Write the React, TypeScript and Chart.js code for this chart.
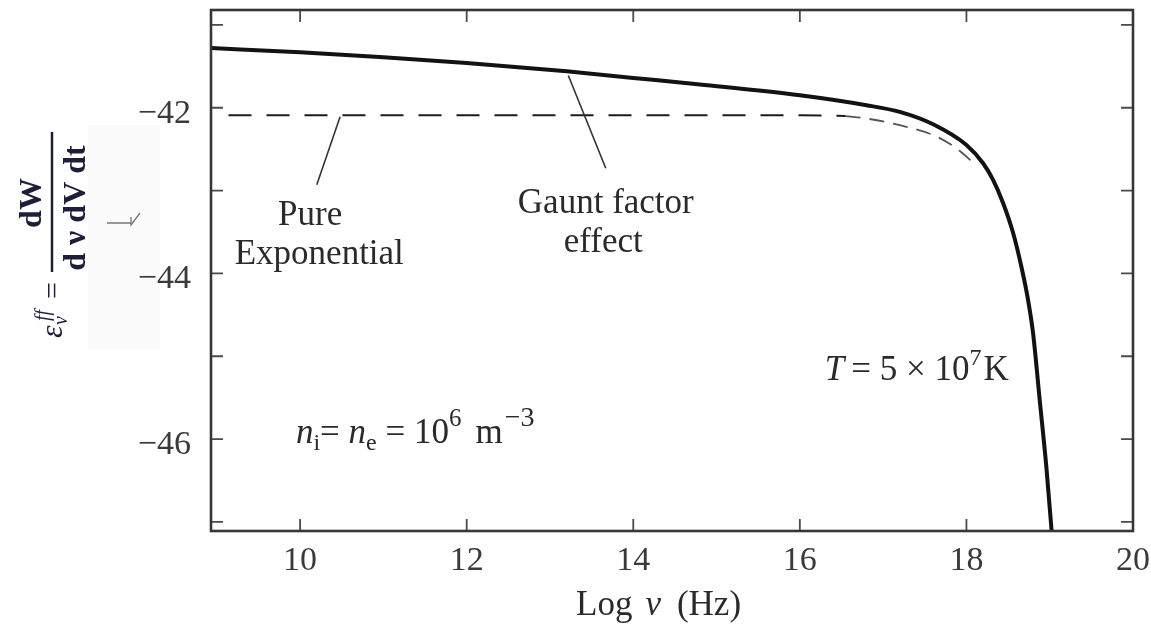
import React, { useEffect, useRef } from "react";
import { Chart, registerables } from "chart.js";

Chart.register(...registerables);

// ---- data ----
const LOG_NU_GAUNT = [8.93, 10.0, 11.0, 12.0, 13.2, 14.0, 14.8, 16.0, 16.8, 17.2, 17.6, 18.0, 18.2, 18.32, 18.44, 18.56, 18.66, 18.74, 18.8, 18.88, 18.96, 19.03];
const EMISSIVITY_GAUNT = [-41.28, -41.33, -41.39, -41.46, -41.56, -41.64, -41.72, -41.85, -41.97, -42.05, -42.2, -42.45, -42.67, -42.87, -43.15, -43.51, -43.92, -44.32, -44.72, -45.53, -46.34, -47.2];

const LOG_NU_EXP_FLAT = [9.14, 10, 12, 14, 16, 16.55];
const EMISSIVITY_EXP_FLAT = [-42.09, -42.09, -42.09, -42.09, -42.09, -42.1];
const LOG_NU_EXP_KNEE = [16.55, 16.8, 17.2, 17.6, 17.88, 18.12];
const EMISSIVITY_EXP_KNEE = [-42.1, -42.13, -42.21, -42.33, -42.49, -42.7];

const X_MIN = 8.93;
const X_MAX = 20;
const Y_MIN = -47.11;
const Y_MAX = -40.82;
const X_TICKS = [10, 12, 14, 16, 18, 20];
const Y_TICKS = [-47, -46, -45, -44, -43, -42, -41];
const Y_LABELED_TICKS = [-46, -44, -42];

const SERIF = "'Liberation Serif', 'DejaVu Serif', 'Times New Roman', serif";
const f = (size: number, style = "") => `${style} ${size}px ${SERIF}`.trim();

type Part = { text: string; font: string; dy?: number; gap?: number };
type Annotation = { x: number; y: number; align: "left" | "center"; parts: Part[] };

const ANNOTATIONS: Annotation[] = [
  { x: 10.12, y: -43.42, align: "center", parts: [{ text: "Pure", font: f(35) }] },
  { x: 10.23, y: -43.89, align: "center", parts: [{ text: "Exponential", font: f(35) }] },
  { x: 13.67, y: -43.27, align: "center", parts: [{ text: "Gaunt factor", font: f(35) }] },
  { x: 13.64, y: -43.74, align: "center", parts: [{ text: "effect", font: f(35) }] },
  {
    x: 16.3,
    y: -45.29,
    align: "left",
    parts: [
      { text: "T", font: f(35, "italic"), gap: 7 },
      { text: "= 5 × 10", font: f(35) },
      { text: "7", font: f(24), dy: -15, gap: 2 },
      { text: "K", font: f(35) },
    ],
  },
  {
    x: 9.95,
    y: -46.05,
    align: "left",
    parts: [
      { text: "n", font: f(35, "italic") },
      { text: "i", font: f(24), dy: 7 },
      { text: "= ", font: f(35) },
      { text: "n", font: f(35, "italic") },
      { text: "e", font: f(24), dy: 7 },
      { text: " = 10", font: f(35) },
      { text: "6", font: f(25), dy: -17, gap: 14 },
      { text: "m", font: f(35), gap: 2 },
      { text: "−3", font: f(28), dy: -17 },
    ],
  },
];

const POINTERS = [
  { x1: 10.48, y1: -42.11, x2: 10.2, y2: -42.93 },
  { x1: 13.22, y1: -41.61, x2: 13.67, y2: -42.73 },
];

function drawParts(ctx: CanvasRenderingContext2D, x: number, y: number, parts: Part[], align: "left" | "center") {
  let total = 0;
  for (const p of parts) {
    ctx.font = p.font;
    total += ctx.measureText(p.text).width + (p.gap || 0);
  }
  let cx = align === "center" ? x - total / 2 : x;
  for (const p of parts) {
    ctx.font = p.font;
    ctx.fillText(p.text, cx, y + (p.dy || 0));
    cx += ctx.measureText(p.text).width + (p.gap || 0);
  }
}

const framePlugin = {
  id: "frameAndNotes",
  beforeDraw(chart: any) {
    const { ctx } = chart;
    ctx.save();
    ctx.fillStyle = "rgba(0,0,0,0.014)";
    ctx.fillRect(88, 125, 72, 225);
    ctx.restore();
  },
  afterDatasetsDraw(chart: any) {
    const { ctx, chartArea: a, scales } = chart;
    const xs = scales.x;
    const ys = scales.y;
    ctx.save();

    // inward tick marks
    ctx.strokeStyle = "#4a4a4a";
    ctx.lineWidth = 1.8;
    ctx.beginPath();
    for (const v of X_TICKS) {
      const px = xs.getPixelForValue(v);
      if (px > a.right - 2) continue;
      ctx.moveTo(px, a.bottom);
      ctx.lineTo(px, a.bottom - 12);
      ctx.moveTo(px, a.top);
      ctx.lineTo(px, a.top + 12);
    }
    for (const v of Y_TICKS) {
      const py = ys.getPixelForValue(v);
      ctx.moveTo(a.left, py);
      ctx.lineTo(a.left + 12, py);
      ctx.moveTo(a.right, py);
      ctx.lineTo(a.right - 12, py);
    }
    ctx.stroke();

    // frame
    ctx.strokeStyle = "#363636";
    ctx.lineWidth = 2.6;
    ctx.strokeRect(a.left, a.top, a.right - a.left, a.bottom - a.top);

    // pointer lines
    ctx.strokeStyle = "#333";
    ctx.lineWidth = 1.6;
    ctx.beginPath();
    for (const p of POINTERS) {
      ctx.moveTo(xs.getPixelForValue(p.x1), ys.getPixelForValue(p.y1));
      ctx.lineTo(xs.getPixelForValue(p.x2), ys.getPixelForValue(p.y2));
    }
    ctx.stroke();

    // annotations
    ctx.fillStyle = "#2a2a2a";
    ctx.textBaseline = "alphabetic";
    ctx.textAlign = "left";
    for (const an of ANNOTATIONS) {
      drawParts(ctx, xs.getPixelForValue(an.x), ys.getPixelForValue(an.y), an.parts, an.align);
    }

    // x-axis title
    drawParts(
      ctx,
      a.left + 365,
      a.bottom + 84,
      [
        { text: "Log", font: f(35), gap: 13 },
        { text: "ν", font: f(35, "italic"), gap: 16 },
        { text: "(Hz)", font: f(35) },
      ],
      "left"
    );

    // y-axis title (rotated fraction)
    ctx.save();
    ctx.translate(60, 340);
    ctx.rotate(-Math.PI / 2);
    ctx.fillStyle = "#1e1e3a";
    ctx.font = f(32, "italic");
    ctx.fillText("ε", 2, 2);
    ctx.font = f(20, "italic");
    ctx.fillText("ν", 15, 7);
    ctx.fillText("ff", 19, -11);
    ctx.font = f(30);
    ctx.fillText("=", 41, 2);
    ctx.strokeStyle = "#1e1e3a";
    ctx.lineWidth = 2.5;
    ctx.beginPath();
    ctx.moveTo(68, -8);
    ctx.lineTo(208, -8);
    ctx.stroke();
    ctx.textAlign = "center";
    ctx.font = f(32, "bold");
    ctx.fillText("dW", 137, -19);
    ctx.fillText("d ν dV dt", 132, 25);
    ctx.restore();

    // small stray mark left of the axis
    ctx.strokeStyle = "#777";
    ctx.lineWidth = 1.3;
    ctx.beginPath();
    ctx.moveTo(107, 223);
    ctx.lineTo(131, 223);
    ctx.moveTo(131, 217);
    ctx.lineTo(131, 225);
    ctx.lineTo(140, 213);
    ctx.stroke();

    ctx.restore();
  },
};

export default function App() {
  const canvasRef = useRef<HTMLCanvasElement | null>(null);

  useEffect(() => {
    if (!canvasRef.current) return;
    const toXY = (xsArr: number[], ysArr: number[]) => xsArr.map((x, i) => ({ x, y: ysArr[i] }));
    const chart = new Chart(canvasRef.current, {
      type: "scatter",
      data: {
        datasets: [
          {
            data: toXY(LOG_NU_EXP_FLAT, EMISSIVITY_EXP_FLAT),
            showLine: true,
            borderColor: "#1c1c1c",
            borderWidth: 2,
            borderDash: [23, 15],
            pointRadius: 0,
            clip: 0,
          },
          {
            data: toXY(LOG_NU_EXP_KNEE, EMISSIVITY_EXP_KNEE),
            showLine: true,
            borderColor: "#555",
            borderWidth: 1.8,
            borderDash: [15, 9],
            pointRadius: 0,
            cubicInterpolationMode: "monotone",
            clip: 0,
          },
          {
            data: toXY(LOG_NU_GAUNT, EMISSIVITY_GAUNT),
            showLine: true,
            borderColor: "#121212",
            borderWidth: 4,
            pointRadius: 0,
            cubicInterpolationMode: "monotone",
            clip: 0,
          },
        ],
      } as any,
      options: {
        animation: false,
        responsive: false,
        devicePixelRatio: 1,
        layout: { padding: { top: 10, right: 18, left: 0, bottom: 0 } },
        plugins: { legend: { display: false }, tooltip: { enabled: false } },
        scales: {
          x: {
            type: "linear",
            min: X_MIN,
            max: X_MAX,
            grid: { display: false, drawTicks: false },
            border: { display: false },
            afterBuildTicks: (s: any) => {
              s.ticks = X_TICKS.map((value) => ({ value }));
            },
            afterFit: (s: any) => {
              s.height = 94;
              s.paddingLeft = 0;
              s.paddingRight = 0;
              s.paddingTop = 0;
              s.paddingBottom = 0;
            },
            ticks: {
              autoSkip: false,
              maxRotation: 0,
              padding: 10,
              color: "#3a3a3a",
              font: { family: SERIF, size: 34 },
              callback: (v: any) => String(v),
            },
          },
          y: {
            type: "linear",
            min: Y_MIN,
            max: Y_MAX,
            grid: { display: false, drawTicks: false },
            border: { display: false },
            afterBuildTicks: (s: any) => {
              s.ticks = Y_TICKS.map((value) => ({ value }));
            },
            afterFit: (s: any) => {
              s.width = 211;
              s.paddingLeft = 0;
              s.paddingRight = 0;
              s.paddingTop = 0;
              s.paddingBottom = 0;
            },
            ticks: {
              autoSkip: false,
              padding: 20,
              labelOffset: 6,
              color: "#3a3a3a",
              font: { family: SERIF, size: 34 },
              callback: (v: any) => (Y_LABELED_TICKS.includes(Number(v)) ? "−" + Math.abs(Number(v)) : ""),
            },
          },
        },
      },
      plugins: [framePlugin],
    } as any);
    return () => chart.destroy();
  }, []);

  return (
    <div style={{ position: "fixed", left: 0, top: 0, width: 1151, height: 625, background: "#fff" }}>
      <canvas ref={canvasRef} width={1151} height={625} style={{ display: "block" }} />
    </div>
  );
}
